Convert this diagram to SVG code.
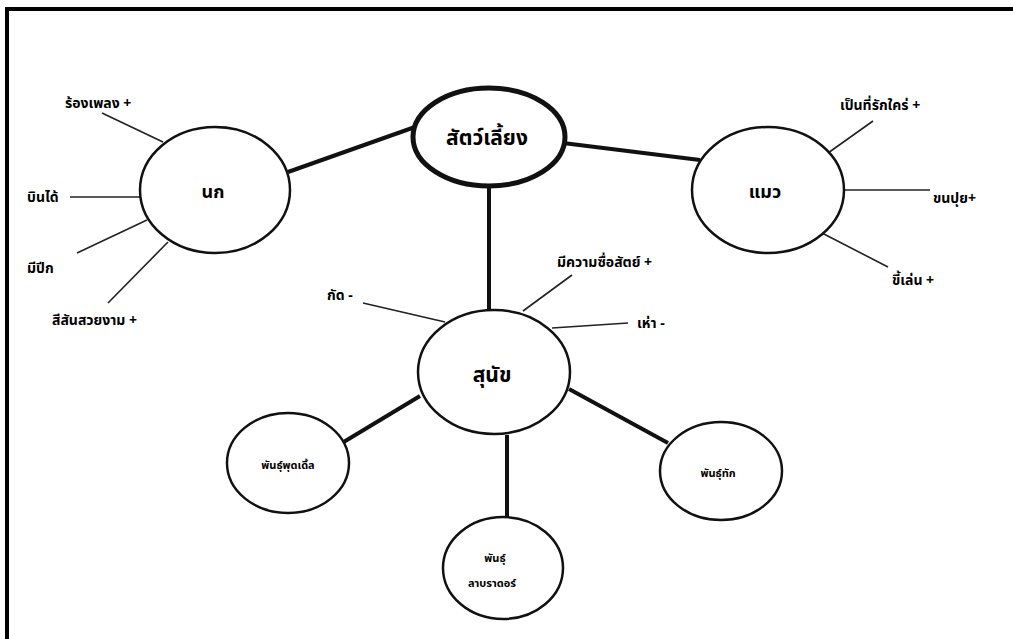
<svg xmlns="http://www.w3.org/2000/svg" width="1013" height="639" viewBox="0 0 1013 639">
<style>
.bg{fill:#ffffff}
.frame{stroke:#000;stroke-width:4;fill:none}
.node{fill:#fff;stroke:#111;stroke-width:2.5}
.main{fill:#fff;stroke:#111;stroke-width:5}
.thick{stroke:#111;stroke-width:4;fill:none}
.thin{stroke:#222;stroke-width:1.6;fill:none}
text{font-family:"Noto Sans Thai","Noto Sans","DejaVu Sans",sans-serif;fill:#000;font-weight:bold}
.big{font-size:21px}
.mid{font-size:18px}
.lab{font-size:14px}
.sm{font-size:11px}
</style>
<rect class="bg" x="0" y="0" width="1013" height="639"/>
<g id="frame">
<line class="frame" x1="5" y1="9" x2="1013" y2="9"/>
<line class="frame" x1="7" y1="7" x2="7" y2="639"/>
</g>
<g id="connectors">
<line class="thick" x1="415" y1="127" x2="288" y2="172"/>
<line class="thick" x1="563" y1="143" x2="700" y2="160"/>
<line class="thick" x1="489" y1="186" x2="489" y2="311"/>
<line class="thick" x1="420" y1="396" x2="342" y2="443"/>
<line class="thick" x1="507" y1="435" x2="507" y2="518"/>
<line class="thick" x1="569" y1="389" x2="668" y2="443"/>
<line class="thin" x1="102" y1="113" x2="163" y2="142"/>
<line class="thin" x1="70" y1="197" x2="140" y2="197"/>
<line class="thin" x1="77" y1="253" x2="147" y2="220"/>
<line class="thin" x1="108" y1="303" x2="168" y2="242"/>
<line class="thin" x1="828" y1="153" x2="873" y2="121"/>
<line class="thin" x1="843" y1="190" x2="930" y2="190"/>
<line class="thin" x1="822" y1="233" x2="888" y2="267"/>
<line class="thin" x1="363" y1="303" x2="445" y2="322"/>
<line class="thin" x1="572" y1="275" x2="523" y2="311"/>
<line class="thin" x1="552" y1="328" x2="628" y2="323"/>
</g>
<g id="pets">
<ellipse class="main" cx="489" cy="137" rx="76" ry="49"/>
<text class="big" x="487" y="145" text-anchor="middle">สัตว์เลี้ยง</text>
</g>
<g id="bird">
<ellipse class="node" cx="215" cy="190" rx="75" ry="63"/>
<text class="mid" x="213" y="198" text-anchor="middle">นก</text>
</g>
<g id="cat">
<ellipse class="node" cx="768" cy="190" rx="76" ry="63"/>
<text class="mid" x="765" y="198" text-anchor="middle">แมว</text>
</g>
<g id="dog">
<ellipse class="node" cx="494" cy="372" rx="76" ry="62"/>
<text class="big" x="492" y="382" text-anchor="middle">สุนัข</text>
</g>
<g id="poodle">
<ellipse class="node" cx="288" cy="463" rx="61" ry="50"/>
<text class="sm" x="288" y="469" text-anchor="middle">พันธุ์พุดเดิ้ล</text>
</g>
<g id="labrador">
<ellipse class="node" cx="503" cy="568" rx="60" ry="51"/>
<text class="sm" x="495" y="562" text-anchor="middle">พันธุ์</text>
<text class="sm" x="492" y="587" text-anchor="middle">ลาบราดอร์</text>
</g>
<g id="breed3">
<ellipse class="node" cx="721" cy="471" rx="61" ry="49"/>
<text class="sm" x="718" y="477" text-anchor="middle">พันธุ์ทัก</text>
</g>
<g id="labels">
<text class="lab" x="65" y="108">ร้องเพลง +</text>
<text class="lab" x="27" y="202">บินได้</text>
<text class="lab" x="27" y="273">มีปีก</text>
<text class="lab" x="52" y="325">สีสันสวยงาม +</text>
<text class="lab" x="840" y="110">เป็นที่รักใคร่ +</text>
<text class="lab" x="933" y="203">ขนปุย+</text>
<text class="lab" x="892" y="285">ขี้เล่น +</text>
<text class="lab" x="557" y="267">มีความซื่อสัตย์ +</text>
<text class="lab" x="327" y="300">กัด -</text>
<text class="lab" x="637" y="328">เห่า -</text>
</g>
</svg>
